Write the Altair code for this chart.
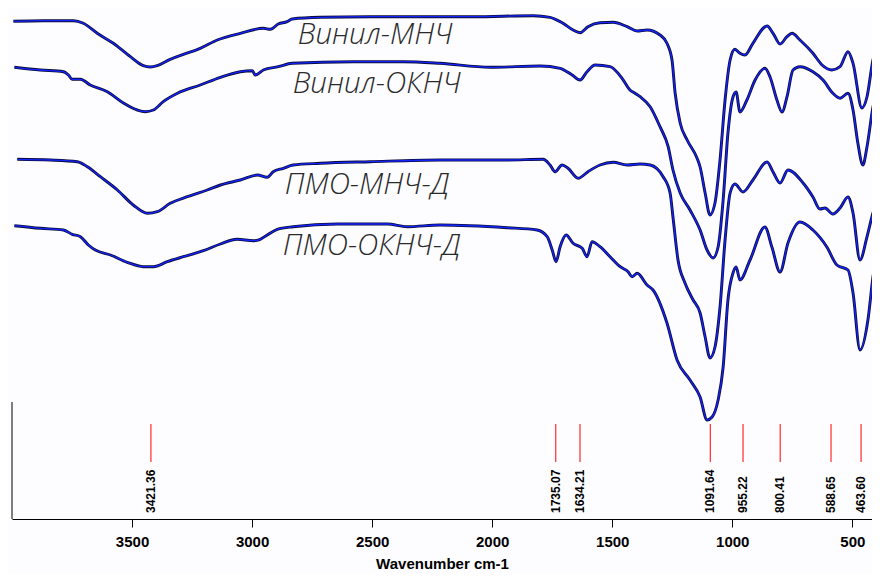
import altair as alt
import pandas as pd

# ---- spectra (wavenumber cm-1, transmittance in arbitrary units, curves offset) ----
WN_1 = [3994, 3869, 3744, 3703, 3645, 3578, 3507, 3453, 3424, 3395, 3341, 3286, 3216, 3145, 3049,
        2953, 2924, 2891, 2854, 2833, 2716, 2508, 2217, 2079, 1829, 1759, 1705, 1663, 1634, 1601,
        1551, 1496, 1438, 1396, 1355, 1301, 1272, 1251, 1238, 1217, 1188, 1147, 1134, 1113, 1093,
        1072, 1051, 1030, 1009, 989, 968, 947, 914, 855, 830, 801, 772, 751, 718, 664,
        626, 585, 551, 518, 497, 460, 439, 414, 385]
T_1 = [497.7, 498.3, 498.3, 495.7, 485.7, 475.7, 462.3, 453.3, 452, 453.3, 459.7, 464.7, 470.7, 479, 485.7,
       490.7, 489.7, 495, 497.3, 500, 501.7, 502.3, 502.3, 502.3, 503.3, 501.7, 495.7, 489, 486.3, 492.3,
       496.3, 496.7, 492.3, 488, 489, 484, 475.7, 459, 426, 396, 379, 361, 352, 326, 304,
       316, 359, 419, 459, 469.7, 465.7, 464, 475.7, 493, 485.7, 475, 482.3, 485.7, 479, 465.7,
       454, 449, 452.3, 467.3, 455.7, 411, 422, 459, 475.7]

WN_2 = [3990, 3882, 3786, 3765, 3749, 3715, 3674, 3603, 3536, 3478, 3445, 3411, 3370, 3311, 3216,
        3132, 3049, 2999, 2987, 2953, 2891, 2833, 2579, 2371, 2217, 2008, 1800, 1717, 1667, 1634,
        1605, 1571, 1509, 1459, 1426, 1405, 1384, 1342, 1301, 1267, 1247, 1217, 1176, 1134, 1105,
        1080, 1059, 1038, 1018, 997, 984, 968, 939, 905, 864, 843, 814, 793, 772, 747,
        718, 664, 622, 581, 551, 518, 497, 477, 456, 439, 414, 385]
T_2 = [451.7, 449, 447.3, 444, 439.7, 439.7, 434, 427.3, 416, 409, 407.3, 409, 417.3, 425.7, 434,
       441.7, 447.3, 448.3, 444, 449, 452.3, 455.7, 457.3, 457.3, 455.7, 451.7, 453, 450.7, 444, 439,
       447.3, 454, 452.3, 440.7, 429, 425.7, 422.3, 412.3, 392.3, 372.3, 349, 326, 309, 289, 269,
       261, 272, 319, 386, 422, 427, 407, 419, 439, 450.7, 442.3, 419, 407, 422.3, 449,
       452.3, 447.3, 439, 425.7, 420.7, 425.7, 409, 376, 354, 372, 412, 437.3]

WN_3 = [3978, 3840, 3728, 3686, 3632, 3561, 3495, 3436, 3395, 3341, 3270, 3187, 3132, 3049, 2978,
        2937, 2912, 2870, 2829, 2716, 2508, 2217, 1938, 1788, 1759, 1738, 1709, 1684, 1642, 1601,
        1551, 1496, 1438, 1384, 1342, 1288, 1259, 1247, 1226, 1197, 1163, 1134, 1113, 1093, 1072,
        1051, 1030, 1009, 989, 955, 914, 855, 830, 801, 768, 705, 664, 635, 614, 581,
        551, 518, 497, 468, 439, 414, 385]
T_3 = [359.7, 359, 357.3, 352.3, 342.3, 329, 314, 305.7, 307.3, 315.7, 322.3, 329, 334, 339, 344,
       341.7, 347.3, 350.7, 354, 355.7, 357.3, 359, 359, 359.7, 354, 347.3, 354, 350.7, 340.7, 347.3,
       354, 356.7, 354, 355, 354, 342.3, 326, 302, 259, 236, 219, 206, 182, 161, 172,
       212, 279, 326, 335, 327, 339, 357, 347, 336, 349, 336, 322, 310, 311, 305,
       311, 322, 306, 259, 282, 306, 324]

WN_4 = [3990, 3882, 3786, 3749, 3715, 3682, 3653, 3590, 3520, 3453, 3411, 3353, 3286, 3203, 3132,
        3062, 2995, 2966, 2937, 2895, 2829, 2645, 2437, 2354, 2217, 1938, 1813, 1771, 1750, 1734,
        1717, 1692, 1663, 1625, 1605, 1584, 1551, 1509, 1467, 1434, 1417, 1396, 1355, 1330, 1272,
        1230, 1176, 1134, 1105, 1084, 1059, 1038, 1018, 997, 984, 968, 926, 864, 835, 801,
        768, 718, 664, 606, 564, 518, 497, 468, 435, 414, 385]
T_4 = [293.3, 290.7, 289, 284.7, 282.3, 274, 269, 264, 256.7, 252.3, 252.3, 257.3, 262.3, 268.3, 275,
       279.7, 278.3, 279.7, 284, 289.7, 292.3, 295, 295, 292.3, 294, 291.3, 289, 282.3, 269, 257.3,
       272.3, 284, 275.7, 270.7, 262.3, 277.3, 272.3, 262.3, 252.3, 247.3, 242.3, 245.7, 234, 229, 196,
       159, 139, 122, 99, 102, 119, 152, 219, 246, 252, 239, 259, 292, 272, 247,
       276, 297, 289, 272, 254, 249, 226, 169, 199, 242, 282]

SERIES = ["Винил-МНЧ", "Винил-ОКНЧ", "ПМО-МНЧ-Д", "ПМО-ОКНЧ-Д"]
LABEL_WN = [2810, 2831, 2864, 2872]
LABEL_T = [474.7, 425.7, 325, 264]

PEAKS = [3421.36, 1735.07, 1634.21, 1091.64, 955.22, 800.41, 588.65, 463.60]
PEAK_TEXT = ["3421.36", "1735.07", "1634.21", "1091.64", "955.22", "800.41", "588.65", "463.60"]

X_TICKS = [3500, 3000, 2500, 2000, 1500, 1000, 500]

# ---- tables ----
frames = []
for name, wn, t in zip(SERIES, [WN_1, WN_2, WN_3, WN_4], [T_1, T_2, T_3, T_4]):
    frames.append(pd.DataFrame({"series": name, "wn": wn, "t": t}))
spectra = pd.concat(frames, ignore_index=True)
labels = pd.DataFrame({"series": SERIES, "wn": LABEL_WN, "t": LABEL_T})
peaks = pd.DataFrame({"wn": PEAKS, "lab": PEAK_TEXT})
edge = pd.DataFrame({"wn": [4000]})

x_scale = alt.Scale(domain=[418, 4000], reverse=True, nice=False, zero=False)
y_scale = alt.Scale(domain=[0, 511], nice=False, zero=False)

x_axis = alt.Axis(
    values=X_TICKS, format="d", title="Wavenumber cm-1", grid=False,
    domainColor="black", tickColor="black", tickSize=8, labelFlush=False,
    labelFont="Liberation Sans", labelFontSize=15, labelFontWeight="bold", labelColor="black",
    labelPadding=7, titleFont="Liberation Sans", titleFontSize=15, titleFontWeight="bold",
    titleColor="black", titleBaseline="alphabetic", titleY=49,
)

X = alt.X("wn:Q", scale=x_scale, axis=x_axis)
Y = alt.Y("t:Q", scale=y_scale, axis=None)

outer = alt.Chart(spectra).mark_line(
    color="#0b0b3a", strokeWidth=2.9, interpolate="monotone", clip=True
).encode(x=X, y=Y, detail="series:N")

inner = alt.Chart(spectra).mark_line(
    color="#1424ff", strokeWidth=1.3, interpolate="monotone", clip=True
).encode(x="wn:Q", y="t:Q", detail="series:N")

names = alt.Chart(labels).mark_text(
    align="left", baseline="alphabetic", font="Open Sans", fontStyle="italic",
    fontWeight=300, fontSize=29.5, color="#2a2a2a"
).encode(x="wn:Q", y="t:Q", text="series:N")

peak_rules = alt.Chart(peaks).mark_rule(color="#ff0000", strokeWidth=1).encode(
    x="wn:Q", y=alt.datum(95), y2=alt.datum(57)
)

peak_text = alt.Chart(peaks).mark_text(
    angle=270, align="left", baseline="middle", font="Liberation Sans",
    fontSize=12, fontWeight="bold", color="black"
).encode(x="wn:Q", y=alt.datum(6), text="lab:N")

left_rule = alt.Chart(edge).mark_rule(color="black", strokeWidth=1).encode(
    x="wn:Q", y=alt.datum(0), y2=alt.datum(117)
)

chart = alt.layer(outer, inner, names, peak_rules, peak_text, left_rule).properties(
    width=860, height=511,
    autosize=alt.AutoSizeParams(type="none"),
    padding={"left": 4, "top": 0, "right": 0, "bottom": 54},
    background="#fdfdff",
).configure_view(stroke=None)

chart.save("out.html", embed_options={"renderer": "svg", "actions": False})
